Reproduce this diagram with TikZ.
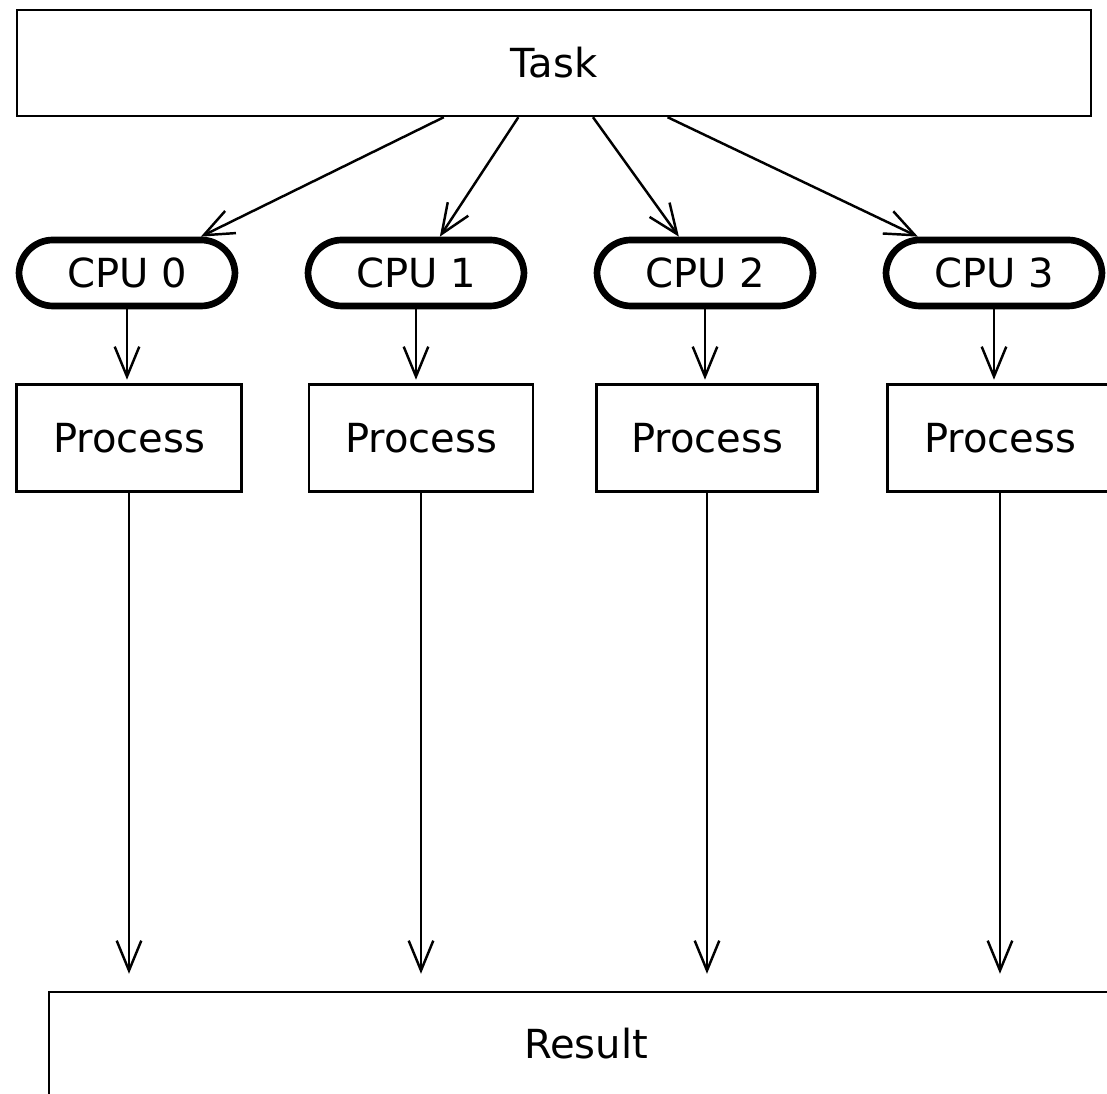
\documentclass[tikz,border=0pt]{standalone}
\usepackage{fontspec}
\setmainfont{DejaVu Sans}
\usepackage{tikz}
\usetikzlibrary{arrows.meta}

\begin{document}
\begin{tikzpicture}[
    box/.style={draw, line width=0.7pt, font=\fontsize{11.4}{13}\selectfont},
    cpu/.style={draw, line width=1.9pt, rounded corners=0.34cm, minimum width=2.16cm, minimum height=0.66cm, font=\fontsize{11.4}{13}\selectfont},
    arr/.style={line width=0.7pt, -{Straight Barb[length=8.5pt, width=7pt]}}
  ]
  \useasboundingbox (0,0) rectangle (11.07,10.94);
  \fill[white] (0,0) rectangle (11.07,10.94);
  \clip (0,0) rectangle (11.07,10.94);
  \node[box, minimum width=10.74cm, minimum height=1.06cm] (task) at (5.54,10.31) {Task};
  \node[cpu] (cpu0) at (1.27,8.21) {CPU 0};
  \node[cpu] (cpu1) at (4.16,8.21) {CPU 1};
  \node[cpu] (cpu2) at (7.05,8.21) {CPU 2};
  \node[cpu] (cpu3) at (9.94,8.21) {CPU 3};
  \node[box, minimum width=2.25cm, minimum height=1.07cm] (proc0) at (1.29,6.56) {Process};
  \node[box, minimum width=2.24cm, minimum height=1.07cm] (proc1) at (4.21,6.56) {Process};
  \node[box, minimum width=2.21cm, minimum height=1.07cm] (proc2) at (7.07,6.56) {Process};
  \node[box, minimum width=2.25cm, minimum height=1.07cm] (proc3) at (10.00,6.56) {Process};
  \node[box, minimum width=10.74cm, minimum height=1.04cm] (res) at (5.86,0.50) {Result};
  \draw[arr] (task) -- (cpu0);
  \draw[arr] (task) -- (cpu1);
  \draw[arr] (task) -- (cpu2);
  \draw[arr] (task) -- (cpu3);
  \draw[arr, shorten >=1pt] (cpu0.south) -- (cpu0.south |- proc0.north);
  \draw[arr, shorten >=1pt] (cpu1.south) -- (cpu1.south |- proc1.north);
  \draw[arr, shorten >=1pt] (cpu2.south) -- (cpu2.south |- proc2.north);
  \draw[arr, shorten >=1pt] (cpu3.south) -- (cpu3.south |- proc3.north);
  \draw[arr, shorten >=0.17cm] (proc0.south) -- (proc0.south |- res.north);
  \draw[arr, shorten >=0.17cm] (proc1.south) -- (proc1.south |- res.north);
  \draw[arr, shorten >=0.17cm] (proc2.south) -- (proc2.south |- res.north);
  \draw[arr, shorten >=0.17cm] (proc3.south) -- (proc3.south |- res.north);
\end{tikzpicture}
\end{document}
